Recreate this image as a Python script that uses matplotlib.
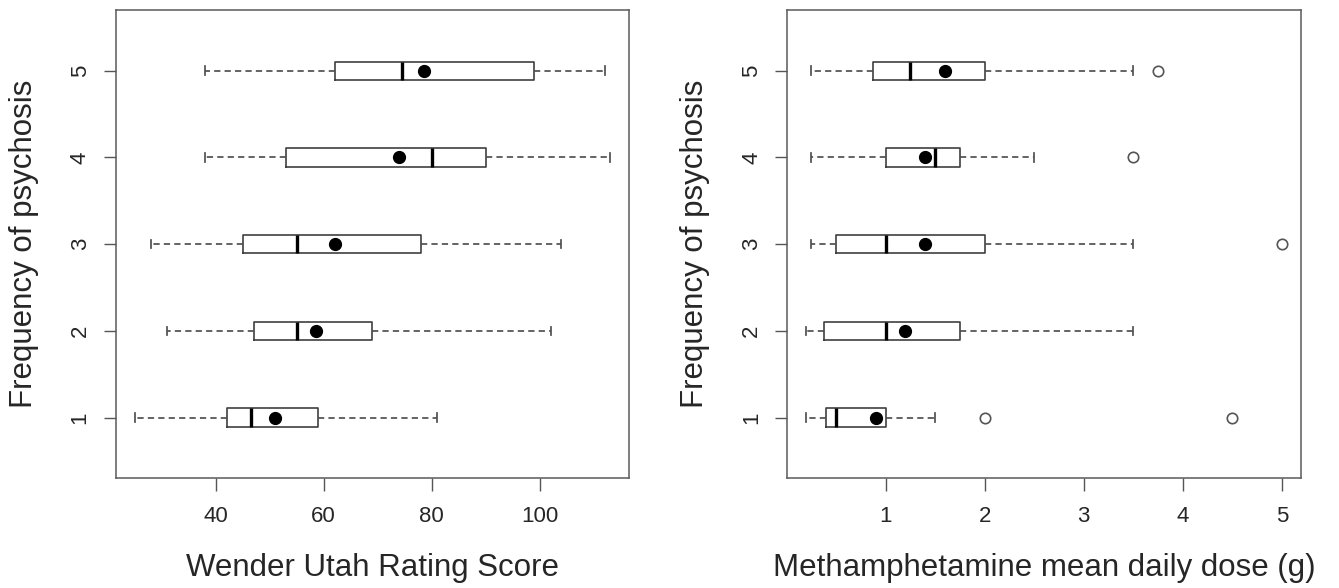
import matplotlib
matplotlib.use("Agg")
import matplotlib.pyplot as plt

plt.rcParams['font.family'] = ['Liberation Sans', 'DejaVu Sans']

# ---------------- data ----------------
groups = [1, 2, 3, 4, 5]
group_labels = ["1", "2", "3", "4", "5"]

# Wender Utah Rating Score by frequency of psychosis
wurs_whislo = [25, 31, 28, 38, 38]
wurs_q1 = [42, 47, 45, 53, 62]
wurs_med = [46.5, 55, 55, 80, 74.5]
wurs_q3 = [59, 69, 78, 90, 99]
wurs_whishi = [81, 102, 104, 113, 112]
wurs_mean = [51, 58.5, 62, 74, 78.5]
wurs_outliers = [[], [], [], [], []]
wurs_ticks = [40, 60, 80, 100]

# Methamphetamine mean daily dose (g) by frequency of psychosis
dose_whislo = [0.2, 0.2, 0.25, 0.25, 0.25]
dose_q1 = [0.4, 0.375, 0.5, 1.0, 0.875]
dose_med = [0.5, 1.0, 1.0, 1.5, 1.25]
dose_q3 = [1.0, 1.75, 2.0, 1.75, 2.0]
dose_whishi = [1.5, 3.5, 3.5, 2.5, 3.5]
dose_mean = [0.9, 1.2, 1.4, 1.4, 1.6]
dose_outliers = [[2.0, 4.5], [], [5.0], [3.5], [3.75]]
dose_ticks = [1, 2, 3, 4, 5]

ylabel = "Frequency of psychosis"
xlabel_left = "Wender Utah Rating Score"
xlabel_right = "Methamphetamine mean daily dose (g)"


def make_stats(lo, q1, med, q3, hi, mean, fl):
    return [dict(whislo=a, q1=b, med=c, q3=d, whishi=e, mean=m, fliers=f)
            for a, b, c, d, e, m, f in zip(lo, q1, med, q3, hi, mean, fl)]


W, H = 1339, 588
fig = plt.figure(figsize=(W / 100, H / 100), dpi=100)

edge = '#404040'
txt = '#262626'


def panel(rect, stats, xlim, xticks, xlabel):
    ax = fig.add_axes(rect)
    ax.bxp(stats, positions=groups, orientation='horizontal', widths=0.21,
           capwidths=0.1, showmeans=True, showfliers=True,
           boxprops=dict(color=edge, linewidth=1.2),
           whiskerprops=dict(color='#505050', linewidth=1.25, linestyle=(0, (3.6, 2.4))),
           capprops=dict(color='#505050', linewidth=1.25),
           medianprops=dict(color='black', linewidth=2.4, solid_capstyle='butt'),
           meanprops=dict(marker='o', markerfacecolor='black', markeredgecolor='black',
                          markersize=8.5),
           flierprops=dict(marker='o', markerfacecolor='none', markeredgecolor='#555555',
                           markeredgewidth=1.2, markersize=7.5))
    ax.set_xlim(*xlim)
    ax.set_ylim(0.3, 5.7)
    ax.set_xticks(xticks)
    ax.set_xticklabels([str(t) for t in xticks])
    ax.set_yticks(groups)
    ax.set_yticklabels(group_labels, rotation=90, va='center')
    ax.tick_params(axis='both', length=9, width=1.0, color='#555555',
                   labelsize=16, labelcolor=txt)
    ax.tick_params(axis='x', pad=11)
    ax.tick_params(axis='y', pad=9)
    for s in ax.spines.values():
        s.set_color('#5a5a5a')
        s.set_linewidth(1.1)
    ax.set_xlabel(xlabel, fontsize=22.5, color=txt, va='center')
    ax.xaxis.set_label_coords(0.5, -(568 - 478.3) / (478.3 - 10))
    ax.set_ylabel(ylabel, fontsize=22.5, color=txt, va='center')
    ax.yaxis.set_label_coords(-92 / rect[2] / W, 0.5)
    return ax


bottom = 1 - 478.3 / H
height = (478.3 - 10) / H
rect1 = [115.7 / W, bottom, (629 - 115.7) / W, height]
rect2 = [787.3 / W, bottom, (1301 - 787.3) / W, height]

panel(rect1,
      make_stats(wurs_whislo, wurs_q1, wurs_med, wurs_q3, wurs_whishi, wurs_mean, wurs_outliers),
      (21.48, 116.52), wurs_ticks, xlabel_left)
panel(rect2,
      make_stats(dose_whislo, dose_q1, dose_med, dose_q3, dose_whishi, dose_mean, dose_outliers),
      (0.008, 5.192), dose_ticks, xlabel_right)

fig.savefig("out.png", dpi=100, facecolor='white')
